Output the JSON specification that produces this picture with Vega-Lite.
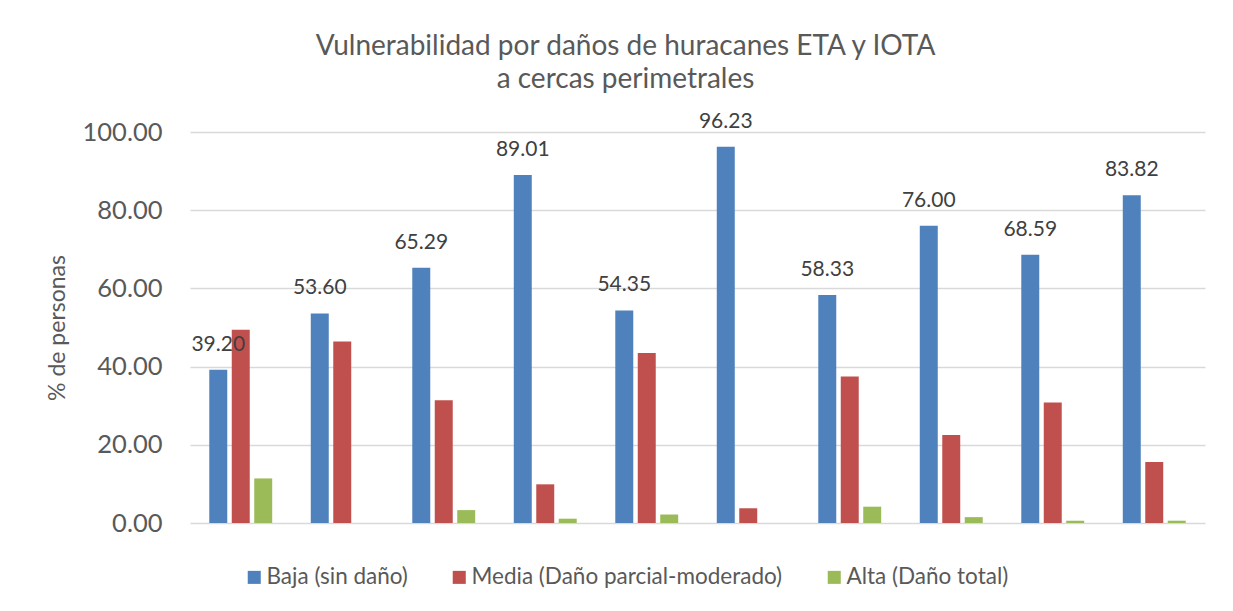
{
  "$schema": "https://vega.github.io/schema/vega-lite/v6.json",
  "width": 1015,
  "height": 391,
  "autosize": {"type": "none"},
  "padding": {"left": 190, "top": 132, "right": 28, "bottom": 88},
  "background": "white",
  "title": {
    "text": ["Vulnerabilidad por daños de huracanes ETA y IOTA", "a cercas perimetrales"],
    "font": "Lato",
    "fontSize": 28,
    "fontWeight": "normal",
    "color": "#595959",
    "lineHeight": 33,
    "anchor": "middle",
    "frame": "bounds",
    "offset": 17
  },
  "config": {
    "view": {"stroke": null},
    "font": "Lato",
    "axis": {"labelFont": "Lato", "titleFont": "Lato"},
    "legend": {"labelFont": "Lato"}
  },
  "data": {
    "values": [
      {"grupo": 1, "nivel": "Baja (sin daño)", "valor": 39.20},
      {"grupo": 1, "nivel": "Media (Daño parcial-moderado)", "valor": 49.40},
      {"grupo": 1, "nivel": "Alta (Daño total)", "valor": 11.40},
      {"grupo": 2, "nivel": "Baja (sin daño)", "valor": 53.60},
      {"grupo": 2, "nivel": "Media (Daño parcial-moderado)", "valor": 46.40},
      {"grupo": 2, "nivel": "Alta (Daño total)", "valor": 0},
      {"grupo": 3, "nivel": "Baja (sin daño)", "valor": 65.29},
      {"grupo": 3, "nivel": "Media (Daño parcial-moderado)", "valor": 31.40},
      {"grupo": 3, "nivel": "Alta (Daño total)", "valor": 3.30},
      {"grupo": 4, "nivel": "Baja (sin daño)", "valor": 89.01},
      {"grupo": 4, "nivel": "Media (Daño parcial-moderado)", "valor": 9.89},
      {"grupo": 4, "nivel": "Alta (Daño total)", "valor": 1.10},
      {"grupo": 5, "nivel": "Baja (sin daño)", "valor": 54.35},
      {"grupo": 5, "nivel": "Media (Daño parcial-moderado)", "valor": 43.48},
      {"grupo": 5, "nivel": "Alta (Daño total)", "valor": 2.17},
      {"grupo": 6, "nivel": "Baja (sin daño)", "valor": 96.23},
      {"grupo": 6, "nivel": "Media (Daño parcial-moderado)", "valor": 3.77},
      {"grupo": 6, "nivel": "Alta (Daño total)", "valor": 0},
      {"grupo": 7, "nivel": "Baja (sin daño)", "valor": 58.33},
      {"grupo": 7, "nivel": "Media (Daño parcial-moderado)", "valor": 37.50},
      {"grupo": 7, "nivel": "Alta (Daño total)", "valor": 4.17},
      {"grupo": 8, "nivel": "Baja (sin daño)", "valor": 76.00},
      {"grupo": 8, "nivel": "Media (Daño parcial-moderado)", "valor": 22.50},
      {"grupo": 8, "nivel": "Alta (Daño total)", "valor": 1.50},
      {"grupo": 9, "nivel": "Baja (sin daño)", "valor": 68.59},
      {"grupo": 9, "nivel": "Media (Daño parcial-moderado)", "valor": 30.83},
      {"grupo": 9, "nivel": "Alta (Daño total)", "valor": 0.58},
      {"grupo": 10, "nivel": "Baja (sin daño)", "valor": 83.82},
      {"grupo": 10, "nivel": "Media (Daño parcial-moderado)", "valor": 15.59},
      {"grupo": 10, "nivel": "Alta (Daño total)", "valor": 0.59}
    ]
  },
  "encoding": {
    "x": {
      "field": "grupo",
      "type": "nominal",
      "axis": null,
      "scale": {"paddingInner": 0.38, "paddingOuter": 0.19}
    },
    "xOffset": {
      "field": "nivel",
      "type": "nominal",
      "scale": {
        "domain": ["Baja (sin daño)", "Media (Daño parcial-moderado)", "Alta (Daño total)"],
        "paddingInner": 0.2,
        "paddingOuter": 0
      }
    },
    "y": {
      "field": "valor",
      "type": "quantitative",
      "scale": {"domain": [0, 100]},
      "axis": {
        "title": "% de personas",
        "values": [0, 20, 40, 60, 80, 100],
        "format": ".2f",
        "domain": false,
        "ticks": false,
        "labelPadding": 28,
        "labelFontSize": 25.5,
        "labelColor": "#595959",
        "titleFontSize": 23,
        "titleFontWeight": "normal",
        "titleColor": "#595959",
        "titlePadding": 13,
        "gridColor": "#d9d9d9",
        "gridWidth": 1.3
      }
    }
  },
  "layer": [
    {
      "mark": {"type": "bar"},
      "encoding": {
        "color": {
          "field": "nivel",
          "type": "nominal",
          "scale": {
            "domain": ["Baja (sin daño)", "Media (Daño parcial-moderado)", "Alta (Daño total)"],
            "range": ["#4F81BD", "#C0504D", "#9BBB59"]
          },
          "legend": {
            "title": null,
            "orient": "none",
            "direction": "horizontal",
            "legendX": 53,
            "legendY": 434,
            "symbolType": "square",
            "symbolSize": 170,
            "symbolStrokeWidth": 0,
            "labelFontSize": 22.5,
            "labelLimit": 0,
            "labelColor": "#595959",
            "labelOffset": 1,
            "columnPadding": 40
          }
        }
      }
    },
    {
      "transform": [{"filter": "datum.nivel == 'Baja (sin daño)'"}],
      "mark": {"type": "text", "baseline": "middle", "dy": -25, "fontSize": 21, "color": "#404040"},
      "encoding": {
        "text": {"field": "valor", "type": "quantitative", "format": ".2f"}
      }
    }
  ]
}
